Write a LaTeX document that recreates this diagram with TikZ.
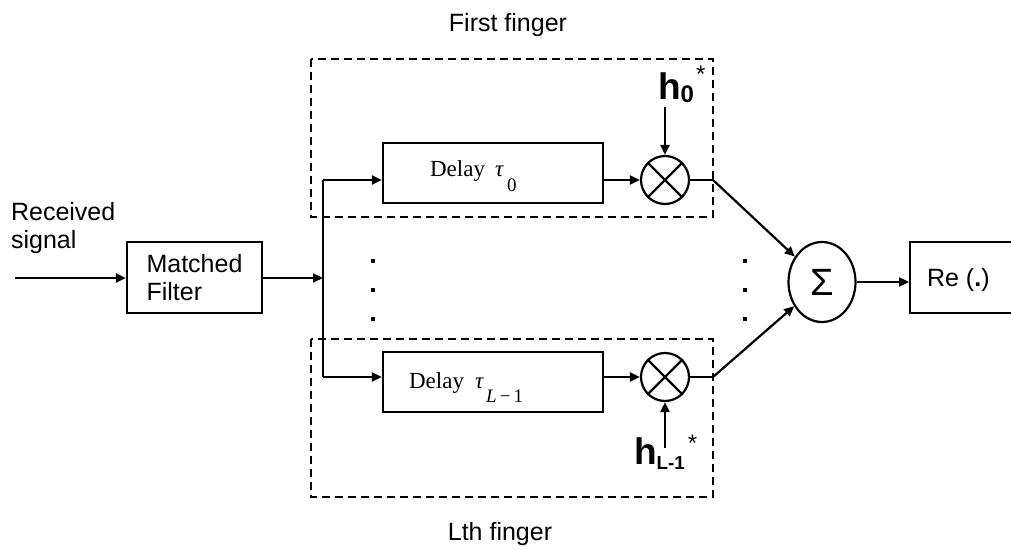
\documentclass[tikz,border=0pt]{standalone}
\usepackage{fontspec}
\setmainfont{Liberation Sans}
\newfontfamily\tms{Liberation Serif}
\usetikzlibrary{arrows.meta,shapes.geometric}
\begin{document}
\begin{tikzpicture}[x=0.5pt,y=-0.5pt,
  line width=1.1pt,
  arr/.style={-{Triangle[length=5pt,width=4.5pt]}},
  blk/.style={draw,line width=1.1pt,inner sep=0pt},
  mult/.style={draw,circle,minimum size=24pt,inner sep=0pt,line width=1.1pt},
  finger/.style={draw,dashed,dash pattern=on 4pt off 2.5pt,line width=1.1pt},
  lbl/.style={inner sep=0pt,font=\fontsize{12.5}{14}\selectfont},
  dly/.style={inner sep=0pt,font=\tms\fontsize{11.5}{13}\selectfont},
  dotm/.style={fill,minimum size=1.7pt,inner sep=0pt}]
\path[use as bounding box] (0,0) rectangle (1011,550);
\clip (0,0) rectangle (1011,550);

% finger frames
\draw[finger] (311,59) rectangle (713,217);
\draw[finger] (311,339) rectangle (713,497);
\node[lbl,anchor=base] (ff) at (508,32) {First finger};
\node[lbl,anchor=base] (lf) at (500,540) {Lth finger};

% input
\node[lbl,align=left,anchor=north west,font=\fontsize{12.5}{14}\selectfont] (rs) at (10,201) {Received\\signal};
\coordinate (in) at (15,278);
\node[blk,minimum width=67.5pt,minimum height=35.5pt,align=left,font=\fontsize{12.5}{14}\selectfont] (mf) at (194.5,277.5) {Matched\\Filter};
\draw[arr] (in) -- (in -| mf.west);

% split
\coordinate (sp) at (323,278);
\coordinate (sp0) at (323,180);
\coordinate (sp1) at (323,377);
\draw[arr] (mf.east |- sp) -- (sp);
\draw (sp0) -- (sp1);

% delay boxes
\node[blk,minimum width=110pt,minimum height=30pt] (d0) at (493,173) {};
\node[blk,minimum width=110pt,minimum height=30pt] (d1) at (493,382) {};
\node[dly,anchor=base west] (t0) at (429,177) {Delay};
\node[dly,anchor=base west] (t0b) at (494,177) {\itshape τ};
\node[dly,anchor=base west,font=\tms\fontsize{9.5}{11}\selectfont] (t0c) at (506,192) {0};
\node[dly,anchor=base west] (t1) at (408,388) {Delay};
\node[dly,anchor=base west] (t1b) at (474,388) {\itshape τ};
\node[dly,anchor=base west,font=\tms\fontsize{9.5}{11}\selectfont] (t1c) at (485,402) {\itshape L\,\upshape −\,1};

\draw[arr] (sp0) -- (sp0 -| d0.west);
\draw[arr] (sp1) -- (sp1 -| d1.west);

% multipliers
\node[mult] (m0) at (665,180) {};
\node[mult] (m1) at (665,377) {};
\draw (m0.north west) -- (m0.south east) (m0.north east) -- (m0.south west);
\draw (m1.north west) -- (m1.south east) (m1.north east) -- (m1.south west);
\draw[arr] (d0.east |- m0) -- (m0.west);
\draw[arr] (d1.east |- m1) -- (m1.west);

% weights
\coordinate (h0a) at (665,107);
\coordinate (h1a) at (665,448);
\draw[arr] (h0a) -- (m0.north);
\draw[arr] (h1a) -- (m1.south);
\node[inner sep=0pt,anchor=base west] (h0) at (657,100) {\fontsize{18.5}{20}\bfseries h\fontsize{12}{14}\selectfont\raisebox{-1.5pt}{0}\mdseries\hspace{1pt}\raisebox{8.5pt}{*}};
\node[inner sep=0pt,anchor=base west] (h1) at (633,464) {\fontsize{18.5}{20}\bfseries h\fontsize{9.4}{11}\selectfont\raisebox{-2.5pt}{L-1}\mdseries\fontsize{12}{14}\selectfont\hspace{1.5pt}\raisebox{6.5pt}{*}};

% sum
\node[draw,ellipse,minimum width=33.5pt,minimum height=40pt,inner sep=0pt,line width=1.1pt,font=\fontsize{19}{20}\selectfont] (sum) at (822,282) {Σ};
\coordinate (j0) at (713,180);
\coordinate (j1) at (713,377);
\draw (m0.east) -- (j0);
\draw (m1.east) -- (j1);
\draw[arr] (j0) -- (sum);
\draw[arr] (j1) -- (sum);

% Re
\node[blk,anchor=west,minimum width=100pt,minimum height=35.5pt] (re) at (909,277.5) {};
\node[lbl,anchor=west] (ret) at (926,280) {Re (\textbf{.})};
\draw[arr] (sum.east) -- (sum.east -| re.west);

% dots
\foreach \y [count=\i] in {261,290,319} {
  \node[dotm] (dl\i) at (373,\y) {};
  \node[dotm] (dr\i) at (745,\y) {};
}
\end{tikzpicture}
\end{document}
